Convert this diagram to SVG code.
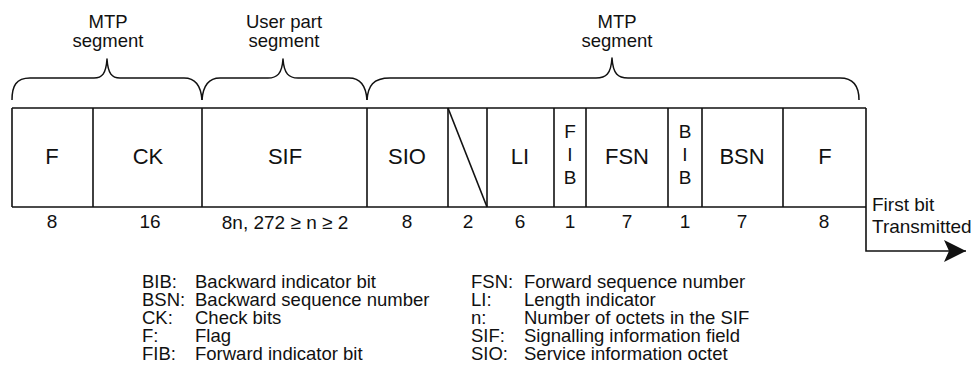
<svg xmlns="http://www.w3.org/2000/svg" width="975" height="380" viewBox="0 0 975 380">
  <style>
    text { font-family: "Liberation Sans", Arial, sans-serif; fill: #111; }
    .seg { font-size: 18.5px; text-anchor: middle; }
    .fld { font-size: 22px; text-anchor: middle; }
    .bits { font-size: 19px; text-anchor: middle; }
    .note { font-size: 19px; }
    .leg { font-size: 18.5px; }
    .ln { fill: none; stroke: #111; stroke-width: 1.6; }
    .brace { fill: none; stroke: #111; stroke-width: 1.5; stroke-linejoin: round; }
  </style>
  <defs>
    <marker id="arrowhead" markerUnits="userSpaceOnUse" markerWidth="24" markerHeight="24" refX="22" refY="12" orient="auto">
      <path d="M0,1 L22,12 L0,23 L5,12 Z" fill="#111"/>
    </marker>
  </defs>

  <rect width="975" height="380" fill="#fff"/>

  <!-- segment captions -->
  <g id="caption-mtp-left">
    <text class="seg" x="108" y="28">MTP</text>
    <text class="seg" x="108" y="47">segment</text>
  </g>
  <g id="caption-user-part">
    <text class="seg" x="284" y="28">User part</text>
    <text class="seg" x="284" y="47">segment</text>
  </g>
  <g id="caption-mtp-right">
    <text class="seg" x="617" y="28">MTP</text>
    <text class="seg" x="617" y="47">segment</text>
  </g>

  <!-- braces grouping the fields -->
  <g id="braces">
    <path class="brace" d="M12,100 C12,86 16,78 30,78 L94,78 C102,78 106,74 107,59 C108,74 112,78 120,78 L184,78 C196,78 201,86 202,100"/>
    <path class="brace" d="M202,100 C203,86 208,78 220,78 L268,78 C277,78 282,74 283,59 C284,74 289,78 298,78 L349,78 C361,78 366,86 367,100"/>
    <path class="brace" d="M367,100 C368,86 373,78 390,78 L596,78 C606,78 611,74 612,58 C613,74 618,78 628,78 L840,78 C853,78 859,86 859,100"/>
  </g>

  <!-- frame outline -->
  <g id="frame">
    <path class="ln" d="M12,108 L866,108 M12,207 L866,207 M12,108 L12,207"/>
  </g>

  <g id="field-f-closing">
    <line class="ln" x1="93" y1="108" x2="93" y2="207"/>
    <text class="fld" x="52" y="164">F</text>
    <text class="bits" x="52" y="228">8</text>
  </g>
  <g id="field-ck">
    <line class="ln" x1="202" y1="108" x2="202" y2="207"/>
    <text class="fld" x="148" y="164">CK</text>
    <text class="bits" x="150" y="228">16</text>
  </g>
  <g id="field-sif">
    <line class="ln" x1="367" y1="108" x2="367" y2="207"/>
    <text class="fld" x="285" y="164">SIF</text>
    <text class="bits" x="285" y="229">8n, 272 ≥ n ≥ 2</text>
  </g>
  <g id="field-sio">
    <line class="ln" x1="448" y1="108" x2="448" y2="207"/>
    <text class="fld" x="407" y="164">SIO</text>
    <text class="bits" x="407" y="228">8</text>
  </g>
  <g id="field-spare">
    <line class="ln" x1="487" y1="108" x2="487" y2="207"/>
    <line class="ln" x1="448" y1="108" x2="487" y2="207"/>
    <text class="bits" x="468" y="228">2</text>
  </g>
  <g id="field-li">
    <line class="ln" x1="554" y1="108" x2="554" y2="207"/>
    <text class="fld" x="520" y="164">LI</text>
    <text class="bits" x="520" y="228">6</text>
  </g>
  <g id="field-fib">
    <line class="ln" x1="586" y1="108" x2="586" y2="207"/>
    <text class="bits" x="570" y="138">F</text>
    <text class="bits" x="570" y="161">I</text>
    <text class="bits" x="570" y="184">B</text>
    <text class="bits" x="570" y="228">1</text>
  </g>
  <g id="field-fsn">
    <line class="ln" x1="668" y1="108" x2="668" y2="207"/>
    <text class="fld" x="627" y="164">FSN</text>
    <text class="bits" x="627" y="228">7</text>
  </g>
  <g id="field-bib">
    <line class="ln" x1="702" y1="108" x2="702" y2="207"/>
    <text class="bits" x="685" y="138">B</text>
    <text class="bits" x="685" y="161">I</text>
    <text class="bits" x="685" y="184">B</text>
    <text class="bits" x="685" y="228">1</text>
  </g>
  <g id="field-bsn">
    <line class="ln" x1="783" y1="108" x2="783" y2="207"/>
    <text class="fld" x="742" y="164">BSN</text>
    <text class="bits" x="742" y="228">7</text>
  </g>
  <g id="field-f-opening">
    <text class="fld" x="825" y="164">F</text>
    <text class="bits" x="824" y="228">8</text>
  </g>

  <!-- transmission direction -->
  <g id="connectors">
    <path class="ln" d="M866,108 L866,251 L966,251" marker-end="url(#arrowhead)"/>
  </g>
  <g id="first-bit-label">
    <text class="note" x="872" y="211">First bit</text>
    <text class="note" x="872" y="233">Transmitted</text>
  </g>

  <!-- abbreviations key -->
  <g id="legend-left">
    <text class="leg" x="142" y="288">BIB:</text><text class="leg" x="195" y="288">Backward indicator bit</text>
    <text class="leg" x="142" y="306">BSN:</text><text class="leg" x="195" y="306">Backward sequence number</text>
    <text class="leg" x="142" y="324">CK:</text><text class="leg" x="195" y="324">Check bits</text>
    <text class="leg" x="142" y="342">F:</text><text class="leg" x="195" y="342">Flag</text>
    <text class="leg" x="142" y="360">FIB:</text><text class="leg" x="195" y="360">Forward indicator bit</text>
  </g>
  <g id="legend-right">
    <text class="leg" x="471" y="288">FSN:</text><text class="leg" x="524" y="288">Forward sequence number</text>
    <text class="leg" x="471" y="306">LI:</text><text class="leg" x="524" y="306">Length indicator</text>
    <text class="leg" x="471" y="324">n:</text><text class="leg" x="524" y="324">Number of octets in the SIF</text>
    <text class="leg" x="471" y="342">SIF:</text><text class="leg" x="524" y="342">Signalling information field</text>
    <text class="leg" x="471" y="360">SIO:</text><text class="leg" x="524" y="360">Service information octet</text>
  </g>
</svg>
